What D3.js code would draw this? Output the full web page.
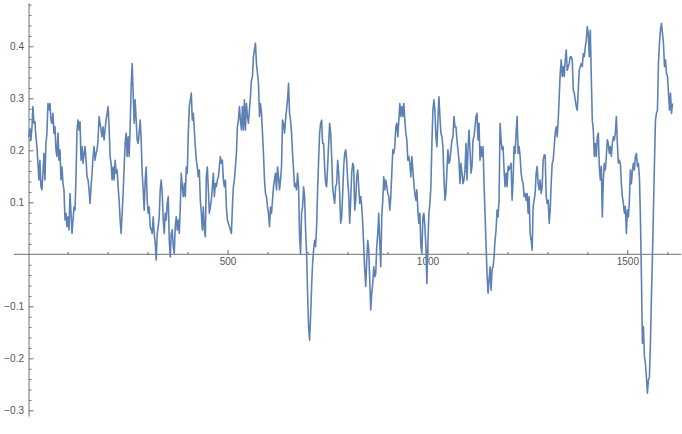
<!DOCTYPE html>
<html><head><meta charset="utf-8">
<script src="https://cdn.jsdelivr.net/npm/d3@7"></script>
<style>body{margin:0;background:#fff}svg{display:block}</style>
</head><body>
<script>
// series values, sampled evenly from x = xFirst to x = xLast
const series = [
0.226,0.242,0.220,0.242,0.284,0.252,0.255,0.226,0.207,0.175,
0.143,0.181,0.130,0.124,0.156,0.194,0.143,0.213,0.233,0.290,
0.278,0.290,0.258,0.252,0.271,0.233,0.245,0.201,0.188,0.233,
0.181,0.201,0.143,0.168,0.136,0.124,0.066,0.079,0.053,0.072,
0.047,0.117,0.079,0.040,0.066,0.091,0.085,0.149,0.239,0.258,
0.239,0.255,0.181,0.207,0.175,0.194,0.207,0.181,0.149,0.143,
0.124,0.098,0.130,0.156,0.188,0.207,0.181,0.194,0.201,0.220,
0.265,0.252,0.239,0.226,0.245,0.220,0.239,0.258,0.271,0.284,
0.245,0.188,0.175,0.143,0.168,0.143,0.181,0.156,0.162,0.130,
0.104,
0.066,0.040,0.079,0.117,0.168,0.213,0.233,0.188,0.226,0.188,
0.245,0.322,0.367,0.310,0.252,0.297,0.258,0.220,0.213,0.233,
0.258,0.220,0.156,0.124,0.085,0.143,0.168,0.104,0.079,0.091,
0.053,0.047,0.040,0.072,0.040,0.021,-0.011,0.040,0.053,0.072,
0.124,0.143,0.117,0.066,0.040,0.079,0.066,0.098,0.111,0.027,
-0.005,0.040,0.047,0.015,0.002,0.053,0.072,0.047,0.066,0.040,
0.091,0.156,0.130,0.111,0.136,0.111,0.168,0.156,0.233,0.284,
0.297,0.310,0.258,0.271,0.239,0.207,0.181,0.168,0.149,0.162,
0.104,0.079,0.047,0.091,0.047,0.034,0.149,0.168,0.124,0.079,
0.091,0.104,0.130,0.156,0.111,0.136,0.130,0.143,0.149,0.168,
0.188,0.175,0.181,0.143,0.130,0.143,0.091,0.066,0.060,0.053,
0.047,0.040,0.091,0.130,0.143,0.168,0.194,0.245,0.258,0.284,
0.258,0.239,0.284,0.239,0.297,0.239,0.290,0.265,0.252,0.278,
0.303,0.335,0.342,0.380,0.393,0.406,0.367,0.348,0.329,0.265,
0.290,0.271,0.233,0.194,0.143,0.117,0.111,0.091,0.079,0.053,
0.091,0.079,0.104,0.130,0.143,0.156,0.124,0.168,0.149,0.124,
0.143,0.168,0.258,0.252,0.233,0.258,0.278,0.297,0.329,0.271,
0.258,0.233,0.194,0.162,0.130,0.136,0.124,0.156,0.130,0.034,
0.002,0.079,0.091,0.130,0.111,0.047,0.002,-0.075,-0.139,-0.165,
-0.120,-0.062,-0.017,0.008,0.027,0.015,0.053,0.124,0.181,0.233,
0.252,0.258,0.213,0.213,0.168,0.136,0.130,0.168,0.213,0.252,
0.233,0.188,0.130,0.111,0.098,0.130,0.136,0.181,0.156,0.117,
0.060,0.072,0.117,0.168,0.194,0.201,0.181,0.143,0.117,
0.060,0.104,0.156,0.175,0.169,0.085,0.104,0.149,0.162,0.130,
0.098,0.111,0.092,0.060,0.015,-0.030,-0.062,-0.011,0.027,0.008,
-0.050,-0.107,-0.075,-0.056,-0.024,-0.043,-0.037,0.015,0.040,0.079,
0.021,-0.024,0.072,0.104,0.149,0.124,0.143,0.130,0.117,0.111,
0.085,0.111,0.156,0.201,0.194,0.207,0.245,0.252,0.226,0.258,
0.290,0.265,0.284,0.265,0.290,0.258,0.233,0.220,0.181,0.188,
0.175,0.149,0.188,0.162,0.136,0.117,0.104,0.124,0.085,0.060,
0.079,0.015,0.002,0.072,0.079,0.053,0.015,-0.056,0.021,0.079,
0.098,0.130,0.213,0.277,0.297,0.277,0.226,0.207,0.258,0.303,
0.265,0.233,0.226,0.207,0.149,0.104,0.117,0.162,0.201,0.175,
0.181,0.201,0.220,0.226,0.265,0.245,0.245,0.220,0.201,0.181,
0.136,0.175,0.156,0.136,0.143,0.162,0.213,0.143,0.201,0.239,
0.201,0.156,0.169,0.220,0.226,0.245,0.265,0.271,0.220,0.252,
0.181,0.207,0.188,0.207,0.136,0.079,0.021,-0.037,-0.075,-0.050,
-0.024,-0.069,-0.030,-0.024,-0.005,0.027,0.047,0.085,0.072,0.104,
0.252,0.220,0.201,0.207,0.162,0.130,0.156,0.130,0.169,0.162,
0.169,0.175,0.104,0.143,0.207,0.194,0.233,0.265,0.194,0.207,
0.188,0.156,0.143,0.136,0.111,0.117,0.104,0.117,0.079,0.111,
0.040,0.027,0.008,0.092,0.104,0.117,0.156,0.169,0.136,0.124,
0.143,0.117,0.130,0.181,0.191,0.191,0.111,0.098,0.104,0.060,
0.085,0.136,0.175,0.181,0.207,0.233,0.245,0.226,0.258,0.303,
0.348,0.374,0.342,0.361,0.342,0.374,0.393,0.354,0.361,0.367,
0.380,0.380,0.374,0.316,0.310,0.297,0.284,0.277,0.316,0.354,
0.361,0.367,0.361,0.386,0.380,0.399,0.412,0.438,0.425,0.380,
0.431,0.342,0.258,0.239,0.188,0.213,0.188,0.226,0.233,0.169,
0.143,0.169,0.072,0.143,0.175,0.162,0.188,0.220,0.213,0.194,
0.207,0.188,0.213,0.226,0.220,0.233,0.265,0.213,0.175,0.181,
0.175,0.136,0.111,0.098,0.079,0.092,0.040,0.085,0.072,0.104,
0.162,0.136,0.162,0.175,0.162,0.188,0.194,0.169,0.175,0.149,
0.072,-0.043,-0.171,-0.139,-0.197,-0.210,-0.236,-0.267,-0.242,-0.236,
-0.171,-0.082,-0.005,0.085,0.175,0.258,0.271,0.277,0.367,0.406,
0.431,0.444,0.425,0.406,0.361,0.374,0.348,0.342,0.310,0.277,
0.310,0.271,0.290
];
const xFirst = 3;
const xLast = 1613;

const xMajorTicks = [500, 1000, 1500];
const xMinorTicks = [100, 200, 300, 400, 600, 700, 800, 900, 1100, 1200, 1300, 1400, 1600];
const yMajorTicks = [-0.3, -0.2, -0.1, 0.1, 0.2, 0.3, 0.4];
const yMinorTicks = [-0.28, -0.26, -0.24, -0.22, -0.18, -0.16, -0.14, -0.12,
  -0.08, -0.06, -0.04, -0.02, 0.02, 0.04, 0.06, 0.08, 0.12, 0.14, 0.16, 0.18,
  0.22, 0.24, 0.26, 0.28, 0.32, 0.34, 0.36, 0.38, 0.42, 0.44, 0.46, 0.48];

const W = 682, H = 434;
const axisColor = "#6e6e6e", textColor = "#555", lineColor = "#5e81b5";

const svg = d3.select("body").append("svg").attr("width", W).attr("height", H);

const x = d3.scaleLinear().domain([0, 1600]).range([27.7, 667.3]);
const y = d3.scaleLinear().domain([0, 0.4]).range([254.3, 46.3]);
const yAxisX = x(3.3);

const step = (xLast - xFirst) / (series.length - 1);
const pts = series.map((v, i) => [xFirst + i * step, v]);

// x axis
const gx = svg.append("g").attr("transform", `translate(0,${y(0)})`);
gx.append("line").attr("x1", x(-35)).attr("x2", x(1635)).attr("stroke", axisColor).attr("stroke-width", 1);
gx.append("g").call(d3.axisBottom(x).tickValues(xMinorTicks).tickSize(-2.5).tickFormat(""))
  .call(g => g.select(".domain").remove())
  .call(g => g.selectAll("line").attr("stroke", axisColor));
gx.append("g").call(d3.axisBottom(x).tickValues(xMajorTicks).tickSize(-4.5).tickPadding(4).tickFormat(d3.format("d")))
  .call(g => g.select(".domain").remove())
  .call(g => g.selectAll("line").attr("stroke", axisColor))
  .call(g => g.selectAll("text").attr("fill", textColor).attr("font-size", 10).attr("font-family", "'Liberation Sans', Arial, sans-serif"));

// y axis
const gy = svg.append("g").attr("transform", `translate(${yAxisX},0)`);
gy.append("line").attr("y1", y(0.483)).attr("y2", y(-0.312)).attr("stroke", axisColor).attr("stroke-width", 1);
gy.append("g").call(d3.axisLeft(y).tickValues(yMinorTicks).tickSize(-2.5).tickFormat(""))
  .call(g => g.select(".domain").remove())
  .call(g => g.selectAll("line").attr("stroke", axisColor));
gy.append("g").call(d3.axisLeft(y).tickValues(yMajorTicks).tickSize(-4.5).tickPadding(5).tickFormat(d3.format(".1f")))
  .call(g => g.select(".domain").remove())
  .call(g => g.selectAll("line").attr("stroke", axisColor))
  .call(g => g.selectAll("text").attr("fill", textColor).attr("font-size", 10).attr("font-family", "'Liberation Sans', Arial, sans-serif"));

// series line
svg.append("path")
  .datum(pts)
  .attr("fill", "none")
  .attr("stroke", lineColor)
  .attr("stroke-width", 1.6)
  .attr("stroke-linejoin", "round")
  .attr("d", d3.line().x(d => x(d[0])).y(d => y(d[1])));
</script>
</body></html>
